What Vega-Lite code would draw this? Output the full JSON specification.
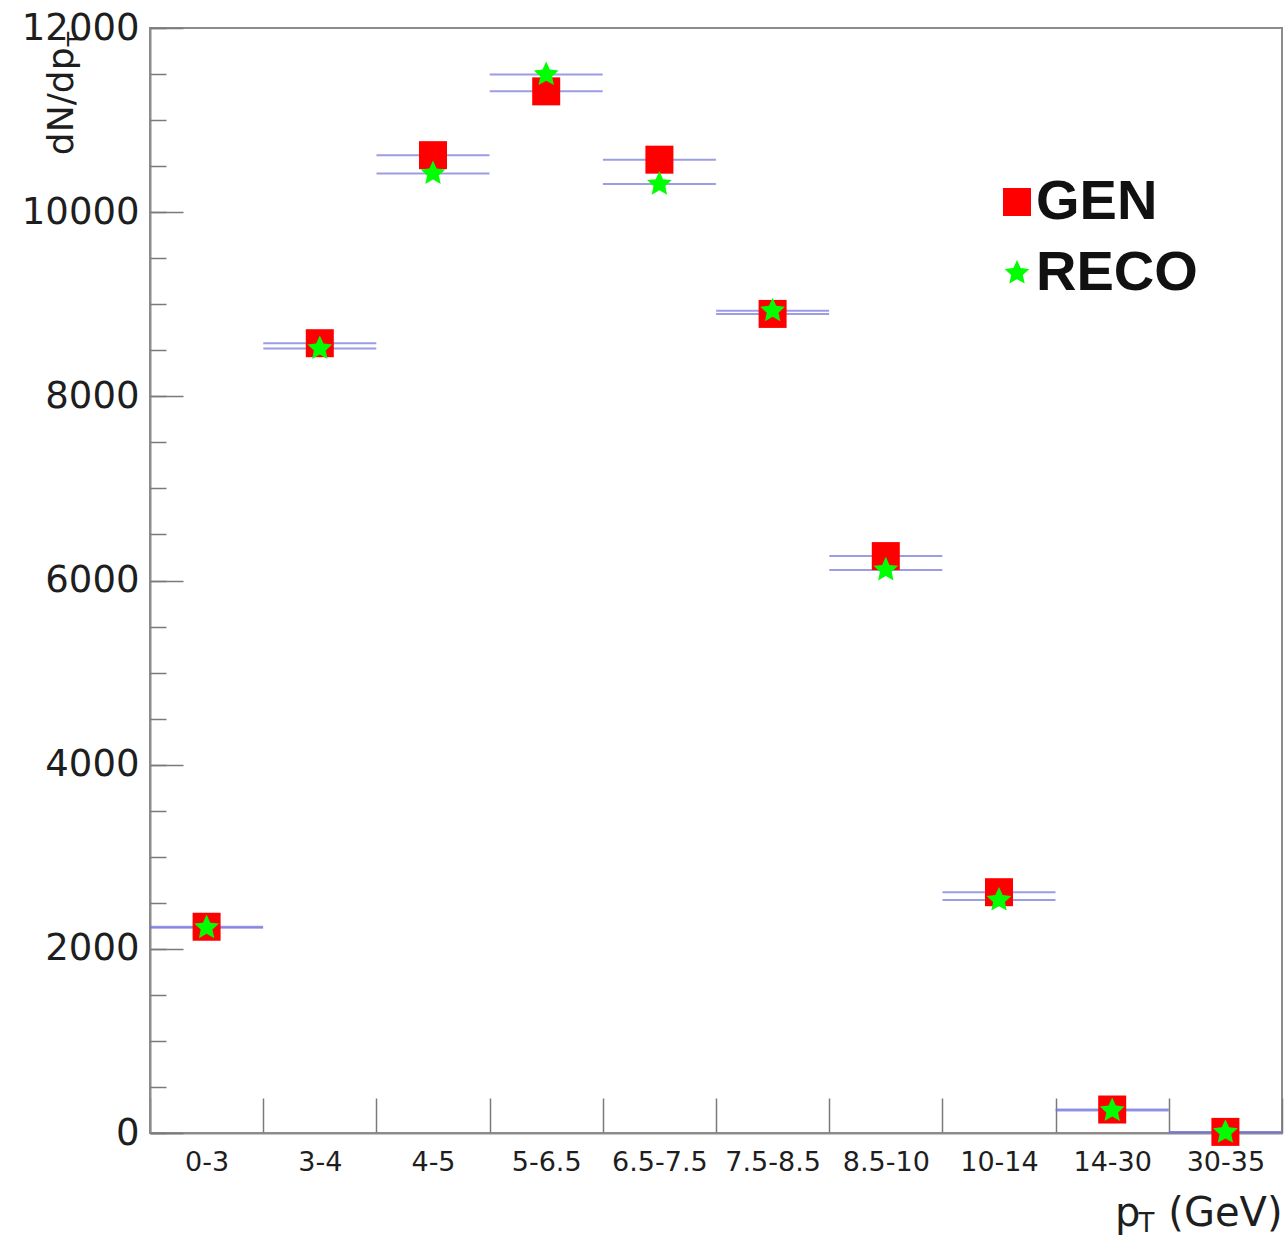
{
  "$schema": "https://vega.github.io/schema/vega-lite/v6.json",
  "autosize": "none",
  "width": 1132,
  "height": 1105,
  "padding": {"left": 150, "top": 28, "right": 5, "bottom": 104},
  "background": "white",
  "config": {
    "view": {"stroke": "#8c8c8c", "strokeWidth": 2},
    "axis": {"grid": false, "domainColor": "#8c8c8c", "domainWidth": 2, "tickColor": "#7a7a7a", "tickWidth": 1.5, "labelColor": "#1e1e1e", "titleColor": "#1e1e1e", "labelFont": "DejaVu Sans", "titleFont": "DejaVu Sans", "titleFontWeight": "normal"}
  },
  "data": {
    "values": [
      {"bin": "0-3", "series": "GEN", "value": 2240},
      {"bin": "3-4", "series": "GEN", "value": 8577},
      {"bin": "4-5", "series": "GEN", "value": 10619},
      {"bin": "5-6.5", "series": "GEN", "value": 11312},
      {"bin": "6.5-7.5", "series": "GEN", "value": 10570},
      {"bin": "7.5-8.5", "series": "GEN", "value": 8895},
      {"bin": "8.5-10", "series": "GEN", "value": 6265},
      {"bin": "10-14", "series": "GEN", "value": 2615},
      {"bin": "14-30", "series": "GEN", "value": 255},
      {"bin": "30-35", "series": "GEN", "value": 12},
      {"bin": "0-3", "series": "RECO", "value": 2230},
      {"bin": "3-4", "series": "RECO", "value": 8520},
      {"bin": "4-5", "series": "RECO", "value": 10420},
      {"bin": "5-6.5", "series": "RECO", "value": 11495},
      {"bin": "6.5-7.5", "series": "RECO", "value": 10305},
      {"bin": "7.5-8.5", "series": "RECO", "value": 8930},
      {"bin": "8.5-10", "series": "RECO", "value": 6115},
      {"bin": "10-14", "series": "RECO", "value": 2530},
      {"bin": "14-30", "series": "RECO", "value": 245},
      {"bin": "30-35", "series": "RECO", "value": 8}
    ]
  },
  "layer": [
    {
      "mark": {"type": "tick", "size": 113, "thickness": 2, "color": "#7474dc"},
      "encoding": {
        "x": {
          "field": "bin", "type": "nominal", "sort": null,
          "scale": {"type": "band", "paddingInner": 0, "paddingOuter": 0},
          "axis": {"orient": "bottom", "title": "p\u2002\u2009(GeV)", "titleFontSize": 40, "titleAnchor": "end", "titleAlign": "right", "titleBaseline": "alphabetic", "titleX": 1132, "titleY": 92, "labelAngle": 0, "labelFontSize": 27, "labelPadding": 51, "tickBand": "extent", "tickSize": -35}
        },
        "y": {
          "field": "value", "type": "quantitative",
          "scale": {"domain": [0, 12000], "nice": false, "zero": true},
          "axis": {"orient": "left", "values": [0, 2000, 4000, 6000, 8000, 10000, 12000], "format": "d", "labelFontSize": 37, "labelPadding": 44, "tickSize": -33, "title": "dN/dp", "titleFontSize": 36, "titleAngle": -90, "titleAnchor": "end", "titleAlign": "right", "titleBaseline": "alphabetic", "titleX": -78, "titleY": 19}
        }
      }
    },
    {
      "mark": {"type": "point", "filled": true, "opacity": 1},
      "encoding": {
        "x": {
          "field": "bin", "type": "nominal", "sort": null,
          "axis": {"orient": "bottom", "labels": false, "ticks": false, "domain": false, "title": "T", "titleFontSize": 26, "titleAlign": "left", "titleBaseline": "alphabetic", "titleX": 988, "titleY": 98}
        },
        "y": {
          "field": "value", "type": "quantitative",
          "axis": {"orient": "left", "values": [0, 500, 1000, 1500, 2000, 2500, 3000, 3500, 4000, 4500, 5000, 5500, 6000, 6500, 7000, 7500, 8000, 8500, 9000, 9500, 10000, 10500, 11000, 11500, 12000], "labels": false, "domain": false, "tickSize": -16, "title": "T", "titleFontSize": 24, "titleAngle": -90, "titleAlign": "left", "titleBaseline": "alphabetic", "titleX": -66, "titleY": 18}
        },
        "color": {
          "field": "series", "type": "nominal",
          "scale": {"domain": ["GEN", "RECO"], "range": ["#ff0000", "#00ff00"]},
          "legend": {"orient": "none", "legendX": 839, "legendY": 146, "title": null, "padding": 0, "labelFont": "Liberation Sans", "labelFontSize": 56, "labelFontWeight": "bold", "labelColor": "#111111", "labelOffset": -9, "labelLimit": 500, "rowPadding": 15, "symbolStrokeWidth": 0, "labelBaseline": "middle"}
        },
        "shape": {
          "field": "series", "type": "nominal",
          "scale": {"domain": ["GEN", "RECO"], "range": ["square", "M0,-1L0.28,-0.38L0.95,-0.31L0.45,0.15L0.59,0.81L0,0.47L-0.59,0.81L-0.45,0.15L-0.95,-0.31L-0.28,-0.38Z"]}
        },
        "size": {
          "field": "series", "type": "nominal",
          "scale": {"domain": ["GEN", "RECO"], "range": [784, 680]}
        }
      }
    }
  ],
  "resolve": {"axis": {"x": "independent", "y": "independent"}}
}
